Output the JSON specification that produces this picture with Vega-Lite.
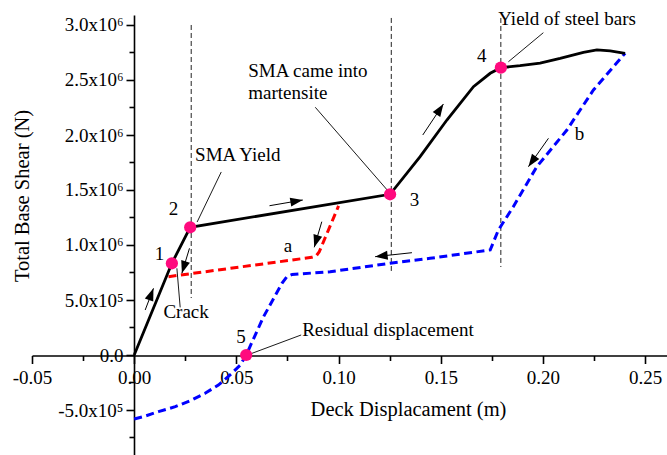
{
  "$schema": "https://vega.github.io/schema/vega-lite/v6.json",
  "width": 635,
  "height": 440,
  "autosize": {"type": "none"},
  "padding": {"left": 32, "top": 15, "right": 0, "bottom": 0},
  "background": "white",
  "config": {"view": {"stroke": null}, "font": "Liberation Serif"},
  "datasets": {
    "black": [
      {"i": 0, "x": 0, "y": 0},
      {"i": 1, "x": 0.01844, "y": 834000},
      {"i": 2, "x": 0.0274, "y": 1161000},
      {"i": 3, "x": 0.1252, "y": 1461000},
      {"i": 4, "x": 0.1399, "y": 1803000},
      {"i": 5, "x": 0.153, "y": 2136000},
      {"i": 6, "x": 0.166, "y": 2439000},
      {"i": 7, "x": 0.1742, "y": 2561000},
      {"i": 8, "x": 0.1794, "y": 2612000},
      {"i": 9, "x": 0.1888, "y": 2630000},
      {"i": 10, "x": 0.1986, "y": 2654000},
      {"i": 11, "x": 0.2084, "y": 2697000},
      {"i": 12, "x": 0.2198, "y": 2752000},
      {"i": 13, "x": 0.2264, "y": 2773000},
      {"i": 14, "x": 0.2329, "y": 2764000},
      {"i": 15, "x": 0.2402, "y": 2743000}
    ],
    "red": [
      {"i": 0, "x": 0.0168, "y": 712000},
      {"i": 1, "x": 0.0869, "y": 888000},
      {"i": 2, "x": 0.089, "y": 900000},
      {"i": 3, "x": 0.0905, "y": 936000},
      {"i": 4, "x": 0.1, "y": 1355000}
    ],
    "blue": [
      {"i": 0, "x": 0, "y": -582000},
      {"i": 1, "x": 0.0054, "y": -555000},
      {"i": 2, "x": 0.0119, "y": -515000},
      {"i": 3, "x": 0.0201, "y": -470000},
      {"i": 4, "x": 0.0282, "y": -409000},
      {"i": 5, "x": 0.0347, "y": -348000},
      {"i": 6, "x": 0.0412, "y": -273000},
      {"i": 7, "x": 0.0478, "y": -166000},
      {"i": 8, "x": 0.0519, "y": -91000},
      {"i": 9, "x": 0.0548, "y": 0},
      {"i": 10, "x": 0.0633, "y": 348000},
      {"i": 11, "x": 0.0723, "y": 652000},
      {"i": 12, "x": 0.0747, "y": 712000},
      {"i": 13, "x": 0.0773, "y": 732000},
      {"i": 14, "x": 0.0959, "y": 757000},
      {"i": 15, "x": 0.1252, "y": 834000},
      {"i": 16, "x": 0.1448, "y": 879000},
      {"i": 17, "x": 0.1742, "y": 955000},
      {"i": 18, "x": 0.1782, "y": 1136000},
      {"i": 19, "x": 0.1855, "y": 1348000},
      {"i": 20, "x": 0.197, "y": 1712000},
      {"i": 21, "x": 0.2117, "y": 2045000},
      {"i": 22, "x": 0.2247, "y": 2409000},
      {"i": 23, "x": 0.2402, "y": 2743000}
    ],
    "points": [
      {"x": 0.01844, "y": 834000},
      {"x": 0.0274, "y": 1161000},
      {"x": 0.1252, "y": 1461000},
      {"x": 0.1794, "y": 2612000},
      {"x": 0.0548, "y": 0}
    ],
    "vlines": [
      {"x": 0.0279, "y": 3000000, "y2": 518000},
      {"x": 0.1258, "y": 3064000, "y2": 755000},
      {"x": 0.1794, "y": 3064000, "y2": 800000}
    ],
    "arrows": [
      {"x": 0.00944, "y": 606000, "x2": 0.00538, "y2": 409000, "angle": 20.9},
      {"x": 0.02334, "y": 743000, "x2": 0.02705, "y2": 970000, "angle": -163},
      {"x": 0.0825, "y": 1409000, "x2": 0.0662, "y2": 1357000, "angle": 80.3},
      {"x": 0.0881, "y": 979000, "x2": 0.0918, "y2": 1212000, "angle": -163.3},
      {"x": 0.1179, "y": 894000, "x2": 0.1359, "y2": 930000, "angle": -96.2},
      {"x": 0.1513, "y": 2282000, "x2": 0.1412, "y2": 2000000, "angle": 33.6},
      {"x": 0.1929, "y": 1712000, "x2": 0.2027, "y2": 1970000, "angle": -144.8}
    ],
    "leaders": [
      {"x": 0.0209, "y": 788000, "x2": 0.0225, "y2": 433000},
      {"x": 0.0308, "y": 1209000, "x2": 0.0426, "y2": 1664000},
      {"x": 0.0886, "y": 2252000, "x2": 0.1238, "y2": 1500000},
      {"x": 0.2002, "y": 2930000, "x2": 0.1831, "y2": 2666000},
      {"x": 0.0817, "y": 182000, "x2": 0.0576, "y2": 15000}
    ],
    "labelsCenter": [
      {"x": 0.0124, "y": 868000, "t": "1"},
      {"x": 0.0192, "y": 1273000, "t": "2"},
      {"x": 0.1371, "y": 1355000, "t": "3"},
      {"x": 0.1701, "y": 2666000, "t": "4"},
      {"x": 0.0523, "y": 106000, "t": "5"},
      {"x": 0.0752, "y": 936000, "t": "a"},
      {"x": 0.2179, "y": 1955000, "t": "b"},
      {"x": 0.0254, "y": 332000, "t": "Crack"}
    ],
    "labelsLeft": [
      {"x": 0.0298, "y": 1764000, "t": "SMA Yield"},
      {"x": 0.0558, "y": 2530000, "t": "SMA came into"},
      {"x": 0.0558, "y": 2323000, "t": "martensite"},
      {"x": 0.1781, "y": 3000000, "t": "Yield of steel bars"},
      {"x": 0.0822, "y": 177000, "t": "Residual displacement"}
    ]
  },
  "encoding": {
    "x": {
      "field": "x",
      "type": "quantitative",
      "scale": {"domain": [-0.05, 0.2607], "nice": false, "zero": false},
      "axis": {
        "title": "Deck Displacament (m)",
        "orient": "bottom",
        "offset": -99.5,
        "grid": false,
        "values": [-0.05, -0.025, 0, 0.025, 0.05, 0.075, 0.1, 0.125, 0.15, 0.175, 0.2, 0.225, 0.25],
        "labelExpr": "round(datum.value*1000) % 50 == 0 ? replace(format(datum.value, '.2f'), '\u2212', '-') : ''",
        "tickSize": {"condition": {"test": "round(datum.value*1000) % 50 == 0", "value": 8}, "value": 5},
        "labelPadding": 5,
        "labelFont": "Liberation Serif",
        "labelFontSize": 19,
        "labelColor": "black",
        "labelOverlap": false,
        "labelFlush": false,
        "labelBound": false,
        "domainColor": "black",
        "domainWidth": 1.6,
        "tickColor": "black",
        "tickWidth": 1.6,
        "titleFont": "Liberation Serif",
        "titleFontSize": 20.5,
        "titleFontWeight": "normal",
        "titleColor": "black",
        "titleX": 376,
        "titleY": 54,
        "titleBaseline": "middle",
        "titleAlign": "center"
      }
    },
    "y": {
      "field": "y",
      "type": "quantitative",
      "scale": {"domain": [-909091, 3090909], "nice": false, "zero": false},
      "axis": {
        "title": "Total Base Shear (N)",
        "orient": "left",
        "offset": -102,
        "grid": false,
        "values": [-750000, -500000, -250000, 0, 250000, 500000, 750000, 1000000, 1250000, 1500000, 1750000, 2000000, 2250000, 2500000, 2750000, 3000000],
        "labelExpr": "datum.value % 500000 != 0 ? '' : datum.value == 0 ? '0.0' : abs(datum.value) >= 1000000 ? replace(format(datum.value/1000000, '.1f'), '\u2212', '-') + 'x10\u2076' : replace(format(datum.value/100000, '.1f'), '\u2212', '-') + 'x10\u2075'",
        "tickSize": {"condition": {"test": "datum.value % 500000 == 0", "value": 8}, "value": 5},
        "labelPadding": 3,
        "labelFont": "Liberation Serif",
        "labelFontSize": 19,
        "labelColor": "black",
        "labelOverlap": false,
        "labelFlush": false,
        "labelBound": false,
        "domainColor": "black",
        "domainWidth": 1.6,
        "tickColor": "black",
        "tickWidth": 1.6,
        "titleFont": "Liberation Serif",
        "titleFontSize": 20.5,
        "titleFontWeight": "normal",
        "titleColor": "black",
        "titleX": -112,
        "titleY": 180.5,
        "titleBaseline": "middle",
        "titleAlign": "center",
        "titleAngle": -90
      }
    }
  },
  "layer": [
    {
      "data": {"name": "vlines"},
      "mark": {"type": "rule", "color": "#222222", "strokeWidth": 1, "strokeDash": [5, 3]},
      "encoding": {"y2": {"field": "y2"}}
    },
    {
      "data": {"name": "red"},
      "mark": {"type": "line", "color": "#FF0000", "strokeWidth": 3, "strokeDash": [8, 4.5]},
      "encoding": {"order": {"field": "i", "type": "quantitative"}}
    },
    {
      "data": {"name": "blue"},
      "mark": {"type": "line", "color": "#0000FF", "strokeWidth": 3, "strokeDash": [8, 4.5]},
      "encoding": {"order": {"field": "i", "type": "quantitative"}}
    },
    {
      "data": {"name": "black"},
      "mark": {"type": "line", "color": "black", "strokeWidth": 2.8},
      "encoding": {"order": {"field": "i", "type": "quantitative"}}
    },
    {
      "data": {"name": "leaders"},
      "mark": {"type": "rule", "color": "black", "strokeWidth": 0.9},
      "encoding": {"x2": {"field": "x2"}, "y2": {"field": "y2"}}
    },
    {
      "data": {"name": "arrows"},
      "mark": {"type": "rule", "color": "black", "strokeWidth": 1},
      "encoding": {"x2": {"field": "x2"}, "y2": {"field": "y2"}}
    },
    {
      "data": {"name": "arrows"},
      "mark": {"type": "point", "shape": "M0,0L0.45,1.25L-0.45,1.25Z", "filled": true, "color": "black", "opacity": 1, "size": 400, "strokeWidth": 0},
      "encoding": {"angle": {"field": "angle", "type": "quantitative", "scale": null}}
    },
    {
      "data": {"name": "points"},
      "mark": {"type": "circle", "color": "#FF0A7E", "opacity": 1, "size": 150}
    },
    {
      "data": {"name": "labelsCenter"},
      "mark": {"type": "text", "align": "center", "baseline": "alphabetic", "font": "Liberation Serif", "fontSize": 19, "color": "black"},
      "encoding": {"text": {"field": "t"}}
    },
    {
      "data": {"name": "labelsLeft"},
      "mark": {"type": "text", "align": "left", "baseline": "alphabetic", "font": "Liberation Serif", "fontSize": 19, "color": "black"},
      "encoding": {"text": {"field": "t"}}
    }
  ]
}
